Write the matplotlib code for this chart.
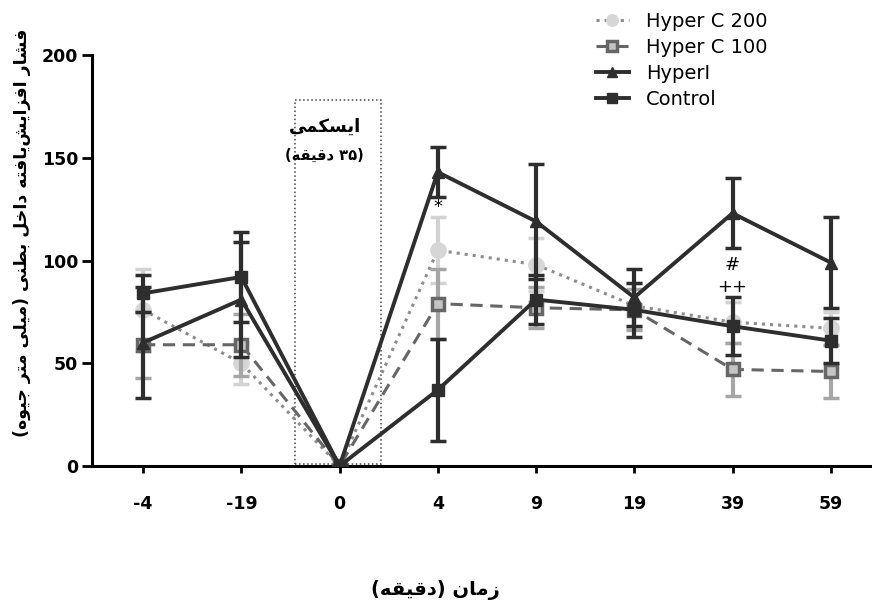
import re
import matplotlib
matplotlib.use('Agg')
from matplotlib import pyplot as plt
from matplotlib.patches import Rectangle
import numpy as np

# data
times = ['-4', '-19', '0', '4', '9', '19', '39', '59']
control = [84, 92, 0, 37, 81, 76, 68, 61]
control_err = [9, 22, 0, 25, 12, 13, 14, 11]
hyper_i = [60, 81, 0, 143, 119, 82, 123, 99]
hyper_i_err = [27, 28, 0, 12, 28, 14, 17, 22]
hyper_c100 = [59, 59, 0, 79, 77, 76, 47, 46]
hyper_c100_err = [16, 15, 0, 17, 10, 10, 13, 13]
hyper_c200 = [76, 50, 0, 105, 98, 78, 70, 67]
hyper_c200_err = [20, 10, 0, 16, 13, 11, 10, 8]

ylabel_text = 'فشار افزایش\u200cیافته داخل بطنی (میلی متر جیوه)'
xlabel_text = 'زمان (دقیقه)'
box_title = 'ایسکمی'
box_sub = '(۳۵ دقیقه)'

# persian letters -> presentation forms (isolated, final, initial, medial)
FORMS = {
    '\u0627': ('\uFE8D', '\uFE8E'),
    '\u0628': ('\uFE8F', '\uFE90', '\uFE91', '\uFE92'),
    '\u062A': ('\uFE95', '\uFE96', '\uFE97', '\uFE98'),
    '\u062C': ('\uFE9D', '\uFE9E', '\uFE9F', '\uFEA0'),
    '\u062E': ('\uFEA5', '\uFEA6', '\uFEA7', '\uFEA8'),
    '\u062F': ('\uFEA9', '\uFEAA'),
    '\u0631': ('\uFEAD', '\uFEAE'),
    '\u0632': ('\uFEAF', '\uFEB0'),
    '\u0633': ('\uFEB1', '\uFEB2', '\uFEB3', '\uFEB4'),
    '\u0634': ('\uFEB5', '\uFEB6', '\uFEB7', '\uFEB8'),
    '\u0637': ('\uFEC1', '\uFEC2', '\uFEC3', '\uFEC4'),
    '\u0641': ('\uFED1', '\uFED2', '\uFED3', '\uFED4'),
    '\u0642': ('\uFED5', '\uFED6', '\uFED7', '\uFED8'),
    '\u0644': ('\uFEDD', '\uFEDE', '\uFEDF', '\uFEE0'),
    '\u0645': ('\uFEE1', '\uFEE2', '\uFEE3', '\uFEE4'),
    '\u0646': ('\uFEE5', '\uFEE6', '\uFEE7', '\uFEE8'),
    '\u0647': ('\uFEE9', '\uFEEA', '\uFEEB', '\uFEEC'),
    '\u0648': ('\uFEED', '\uFEEE'),
    '\u06A9': ('\uFB8E', '\uFB8F', '\uFB90', '\uFB91'),
    '\u06CC': ('\uFBFC', '\uFBFD', '\uFBFE', '\uFBFF'),
}


def fa(s):
    # shape the letters and put them in visual (right-to-left) order
    s = s.replace('\u064A', '\u06CC').replace('\u0643', '\u06A9')
    out = []
    for i, c in enumerate(s):
        if c not in FORMS:
            out.append(c)
            continue
        f = FORMS[c]
        prev = s[i - 1] if i > 0 else ''
        nxt = s[i + 1] if i + 1 < len(s) else ''
        jp = prev in FORMS and len(FORMS[prev]) == 4
        jn = nxt in FORMS and len(f) == 4
        if jp and jn:
            out.append(f[3])
        elif jp:
            out.append(f[1])
        elif jn:
            out.append(f[2])
        else:
            out.append(f[0])
    shaped = ''.join(out).replace('\u200c', '')
    tokens = re.findall(r'[\u06F0-\u06F90-9]+|.', shaped)
    mirror = {'(': ')', ')': '('}
    return ''.join(mirror.get(t, t) for t in reversed(tokens))


plt.rcParams['font.family'] = ['DejaVu Sans']

fig = plt.figure(figsize=(8.72, 6.05), dpi=100)
ax = fig.add_axes([92 / 872, (605 - 466) / 605, 780 / 872, (466 - 55) / 605])

x = np.arange(len(times))
dark = '#2e2e2e'

c200 = ax.errorbar(x, hyper_c200, yerr=hyper_c200_err, color='#8c8c8c', ls=':', lw=2.2,
                   marker='o', ms=11, mfc='#d6d6d6', mec='#d6d6d6',
                   ecolor='#d3d3d3', elinewidth=3, capsize=5.5, capthick=2.5, zorder=2)
c100 = ax.errorbar(x, hyper_c100, yerr=hyper_c100_err, color='#666666', ls=(0, (4, 2.5)), lw=2.2,
                   marker='s', ms=9, mfc='#c4c4c4', mec='#666666', mew=2.5,
                   ecolor='#a6a6a6', elinewidth=3, capsize=5.5, capthick=2.5, zorder=3)
hi = ax.errorbar(x, hyper_i, yerr=hyper_i_err, color=dark, ls='-', lw=2.8,
                 marker='^', ms=9, ecolor=dark, elinewidth=3, capsize=5.5, capthick=2.5, zorder=4)
ctl = ax.errorbar(x, control, yerr=control_err, color=dark, ls='-', lw=2.8,
                  marker='s', ms=9, ecolor=dark, elinewidth=3, capsize=5.5, capthick=2.5, zorder=5)

# ischemia box
ax.add_patch(Rectangle((1.55, 1), 0.87, 177, fill=False, ls=':', lw=1.1, ec='#444444', zorder=1))
ax.text(1.85, 165, fa(box_title), ha='center', va='center', fontsize=13, fontweight='bold')
ax.text(1.85, 151, fa(box_sub), ha='center', va='center', fontsize=10.5, fontweight='bold')

# significance marks
ax.text(3, 126, '*', ha='center', va='center', fontsize=13)
ax.text(6, 98, '#', ha='center', va='center', fontsize=13)
ax.text(6, 87, '++', ha='center', va='center', fontsize=13)

ax.set_xlim(-0.52, 7.42)
ax.set_ylim(0, 200)
ax.set_xticks(x)
ax.set_xticklabels(times)
ax.set_yticks([0, 50, 100, 150, 200])
for lab in ax.get_xticklabels() + ax.get_yticklabels():
    lab.set_fontweight('bold')
ax.tick_params(axis='x', length=5, width=2, labelsize=12.5, pad=16)
ax.tick_params(axis='y', length=7, width=2, labelsize=12.5, pad=3)
ax.spines['top'].set_visible(False)
ax.spines['right'].set_visible(False)
ax.spines['left'].set_linewidth(2.2)
ax.spines['bottom'].set_linewidth(2.2)

fig.text(22 / 872, 1 - 233 / 605, fa(ylabel_text), rotation=90, ha='center', va='center',
         fontsize=12.5, fontweight='bold')
fig.text(435 / 872, 1 - 590 / 605, fa(xlabel_text), ha='center', va='center',
         fontsize=14, fontweight='bold')

fig.legend(handles=[c200[0], c100[0], hi[0], ctl[0]],
           labels=['Hyper C 200', 'Hyper C 100', 'HyperI', 'Control'],
           loc='upper left', bbox_to_anchor=(586 / 872, 1 - 2 / 605), frameon=False,
           fontsize=14, handlelength=1.7, handletextpad=0.9, labelspacing=0.36, borderpad=0,
           markerscale=0.75)

fig.savefig('out.png', dpi=100)
